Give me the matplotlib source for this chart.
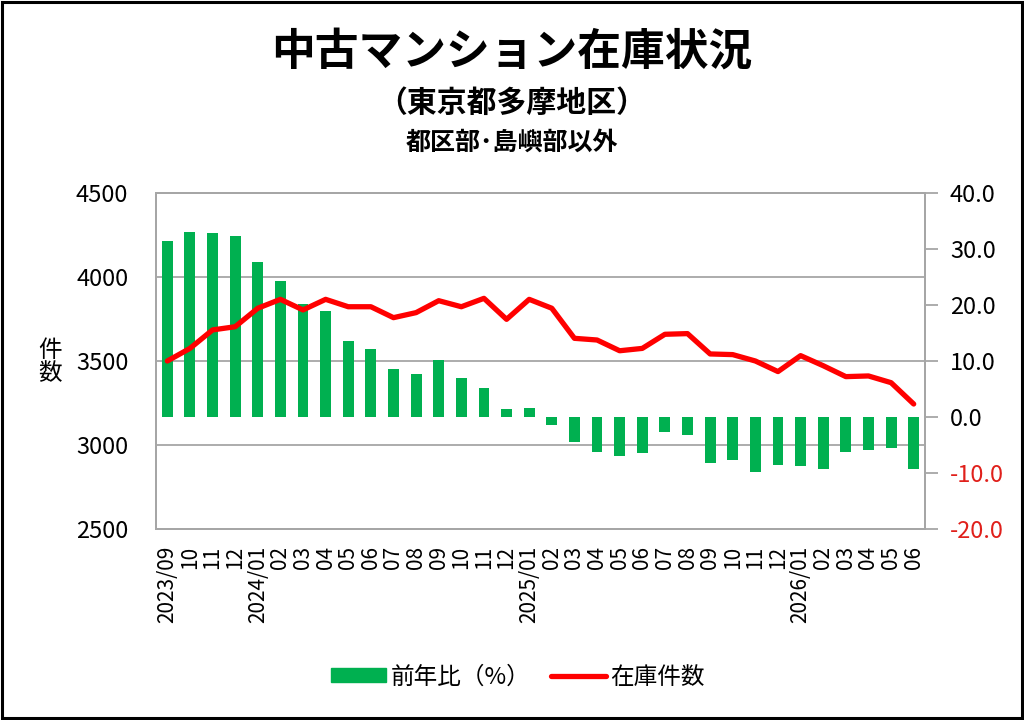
import matplotlib
matplotlib.use("Agg")
import matplotlib.pyplot as plt
from matplotlib.patches import Rectangle, Patch
from matplotlib.lines import Line2D

plt.rcParams['font.family'] = ['Noto Sans CJK JP', 'DejaVu Sans']

### data
months = ["2023/09", "10", "11", "12",
          "2024/01", "02", "03", "04", "05", "06", "07", "08", "09", "10", "11", "12",
          "2025/01", "02", "03", "04", "05", "06", "07", "08", "09", "10", "11", "12",
          "2026/01", "02", "03", "04", "05", "06"]

stock = [3500, 3575, 3685, 3704,
         3814, 3867, 3804, 3867, 3823, 3823, 3758, 3788, 3859, 3823, 3873, 3748,
         3867, 3814, 3635, 3625, 3561, 3575, 3659, 3663, 3542, 3538, 3500, 3437,
         3532, 3472, 3407, 3411, 3371, 3244]

yoy = [31.5, 33.0, 32.9, 32.4,
       27.6, 24.3, 20.1, 19.0, 13.6, 12.1, 8.5, 7.7, 10.2, 6.9, 5.1, 1.4,
       1.6, -1.5, -4.4, -6.2, -6.9, -6.5, -2.7, -3.3, -8.3, -7.6, -9.8, -8.6,
       -8.8, -9.2, -6.3, -5.9, -5.5, -9.3]

left_ticks = [2500, 3000, 3500, 4000, 4500]
right_ticks = [-20, -10, 0, 10, 20, 30, 40]

GREEN = "#00B050"
RED = "#FF0000"
GRAY = "#A6A6A6"

fig = plt.figure(figsize=(10.24, 7.2), dpi=100)
fig.patches.append(Rectangle((0.002, 0.003), 0.996, 0.994, transform=fig.transFigure,
                             fill=False, edgecolor="black", linewidth=2.2))

rect = [156/1024, 1 - 529/720, (925 - 156)/1024, (529 - 193)/720]
x = list(range(len(months)))

### base axis: left scale + grid
ax = fig.add_axes(rect)
ax.set_xlim(-0.5, len(months) - 0.5)
ax.set_ylim(2500, 4500)
ax.set_yticks(left_ticks)
ax.set_yticklabels([str(v) for v in left_ticks], fontsize=17)
ax.tick_params(axis='y', length=0, pad=20)
ax.set_xticks(x)
ax.set_xticklabels(months, rotation=90, fontsize=15)
ax.tick_params(axis='x', length=0, pad=12)
ax.yaxis.grid(True, color=GRAY, linewidth=1.3)
ax.set_axisbelow(True)
for s in ax.spines.values():
    s.set_color(GRAY)
    s.set_linewidth(1.3)
ax.text(-0.138, 0.497, "件\n数", transform=ax.transAxes, fontsize=17,
        ha='center', va='center', linespacing=1.05)

### bars on right scale
axb = ax.twinx()
axb.set_ylim(-20, 40)
axb.bar(x, yoy, width=0.48, color=GREEN, zorder=2)
axb.set_yticks(right_ticks)
axb.set_yticklabels(["%.1f" % v for v in right_ticks], fontsize=17)
for lbl, v in zip(axb.get_yticklabels(), right_ticks):
    if v < 0:
        lbl.set_color("#E0201B")
axb.tick_params(axis='y', length=9, width=1.3, color=GRAY, pad=9)
for s in axb.spines.values():
    s.set_color(GRAY)
    s.set_linewidth(1.3)

### line on left scale, drawn last
axl = ax.twinx()
axl.set_ylim(2500, 4500)
axl.plot(x, stock, color=RED, linewidth=3.8, solid_joinstyle='round', solid_capstyle='round')
axl.axis('off')

### titles
fig.text(0.5, 1 - 52/720, "中古マンション在庫状況", ha='center', va='center',
         fontsize=31.5, fontweight='bold')
fig.text(0.5, 1 - 103/720, "（東京都多摩地区）", ha='center', va='center',
         fontsize=21.5, fontweight='bold')
fig.text(0.5, 1 - 143/720, "都区部･島嶼部以外", ha='center', va='center',
         fontsize=18, fontweight='bold')

### legend
handles = [Patch(facecolor=GREEN, edgecolor=GREEN),
           Line2D([], [], color=RED, linewidth=3.8, solid_capstyle='round')]
fig.legend(handles, ["前年比（%）", "在庫件数"], loc='center', ncol=2,
           bbox_to_anchor=(0.506, 1 - 677/720), frameon=False, fontsize=17,
           handlelength=2.3, handleheight=0.55, columnspacing=0.9, handletextpad=0.2)

fig.savefig("out.png", dpi=100)
